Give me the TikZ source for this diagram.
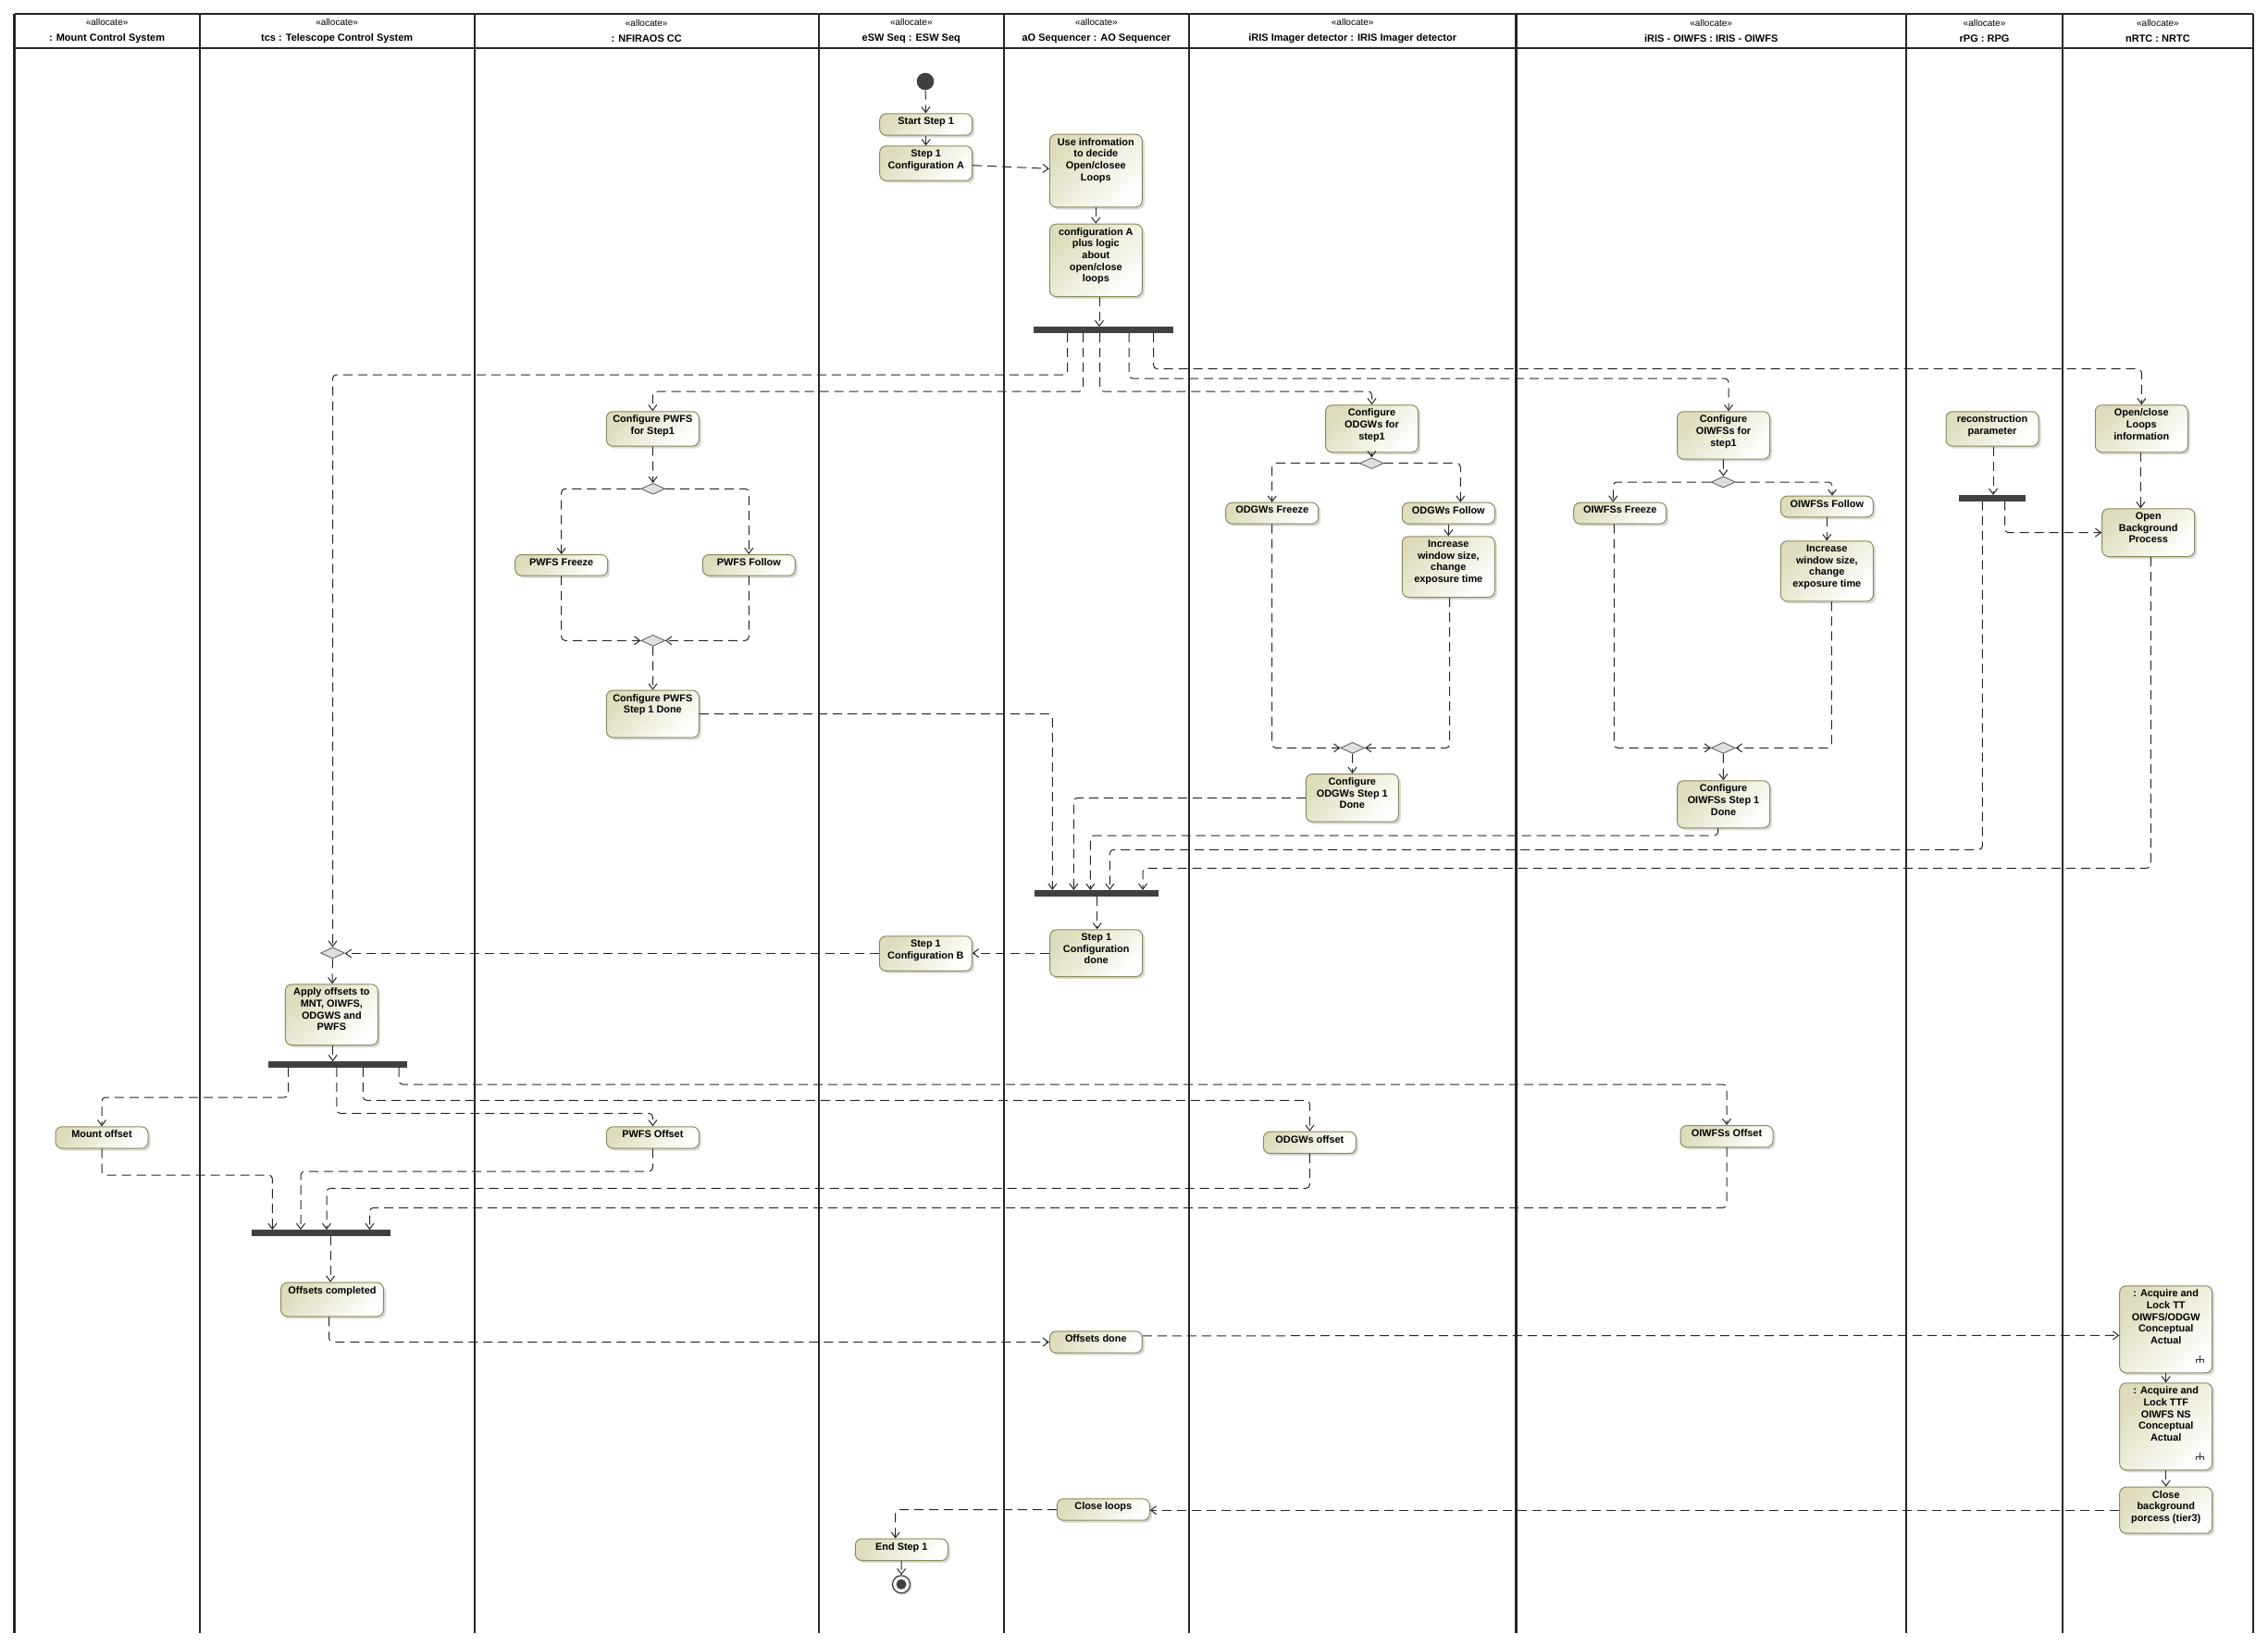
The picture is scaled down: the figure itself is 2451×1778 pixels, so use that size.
\documentclass[tikz,border=0pt]{standalone}
\usepackage{fontspec}
\setmainfont{Liberation Sans}
\usetikzlibrary{arrows.meta,shapes.geometric,shadows}
\definecolor{actdraw}{RGB}{138,138,88}
\definecolor{actfill}{RGB}{222,220,188}
\definecolor{bargray}{RGB}{64,64,64}
\tikzset{>={Straight Barb[length=6pt,width=9pt]}}
\tikzset{
  action/.style={
    draw=actdraw, line width=1pt, rounded corners=7pt,
    top color=actfill, bottom color=white, shading angle=45,
    drop shadow={shadow xshift=2.5pt,shadow yshift=-2.5pt,opacity=.3},
    anchor=north, inner sep=0pt, minimum width=#1},
  action/.default=100pt,
  flow/.style={->, draw=black!85, line width=1pt, dash pattern=on 10pt off 6pt, rounded corners=4pt},
  decision/.style={diamond, draw=gray!70!black, fill=gray!25, line width=.8pt,
    minimum width=26pt, minimum height=12pt, inner sep=0pt},
  bar/.style={rectangle, fill=bargray, inner sep=0pt, minimum height=6.4pt},
  lane/.style={line width=2.4pt, draw=black!85},
  lanehead/.style={align=center, inner sep=0pt, font=\fontsize{10}{16.7}\selectfont},
  finalnode/.style={circle, draw=black!80, fill=white, line width=1.2pt, minimum size=19pt, inner sep=0pt,
    drop shadow={shadow xshift=2pt,shadow yshift=-2pt,opacity=.3}}
}
\newcommand{\acttext}[2]{\parbox[c][#1pt][t]{98pt}{\vspace*{4pt}\centering\fontsize{10.9}{12.7}\selectfont\bfseries #2\par}}
\newcommand{\lanename}[1]{{\fontsize{11}{16.7}\selectfont\bfseries #1}}
\newcommand{\rakeat}[1]{%
  \draw[line width=1.1pt, black!80] ([xshift=-14pt,yshift=19pt]#1) -- ([xshift=-14pt,yshift=11pt]#1)
    ([xshift=-18pt,yshift=11pt]#1) -- ([xshift=-18pt,yshift=15pt]#1) -- ([xshift=-10pt,yshift=15pt]#1) -- ([xshift=-10pt,yshift=11pt]#1);}

\begin{document}
\begin{tikzpicture}[x=1pt,y=-1pt]
\useasboundingbox (0,0) rectangle (2451,1778);
% swimlanes
\draw[lane] (15.6,15) -- (2435,15) (15.6,52) -- (2435,52);
\draw[lane] (15.6,15) -- (15.6,1765) (215.7,15) -- (215.7,1765) (512.7,15) -- (512.7,1765)
  (884.7,15) -- (884.7,1765) (1084.8,15) -- (1084.8,1765) (1285,15) -- (1285,1765)
  (1638.3,15) -- (1638.3,1765) (2060.2,15) -- (2060.2,1765) (2228.8,15) -- (2228.8,1765)
  (2435,15) -- (2435,1765);
\node[lanehead] (hmcs) at (115.6,33.5) {«allocate»\\\lanename{: Mount Control System}};
\node[lanehead] (htcs) at (364.2,33.5) {«allocate»\\\lanename{tcs : Telescope Control System}};
\node[lanehead] (hnfiraos) at (698.7,33.5) {«allocate»\\\lanename{: NFIRAOS CC}};
\node[lanehead] (hesw) at (984.8,33.5) {«allocate»\\\lanename{eSW Seq : ESW Seq}};
\node[lanehead] (haoseq) at (1184.9,33.5) {«allocate»\\\lanename{aO Sequencer : AO Sequencer}};
\node[lanehead] (himager) at (1461.7,33.5) {«allocate»\\\lanename{iRIS Imager detector : IRIS Imager detector}};
\node[lanehead] (hoiwfs) at (1849.2,33.5) {«allocate»\\\lanename{iRIS - OIWFS : IRIS - OIWFS}};
\node[lanehead] (hrpg) at (2144.5,33.5) {«allocate»\\\lanename{rPG : RPG}};
\node[lanehead] (hnrtc) at (2331.9,33.5) {«allocate»\\\lanename{nRTC : NRTC}};

% eSW Seq
\node[circle, fill=bargray, minimum size=18.6pt, inner sep=0pt] (init) at (1000,88) {};
\node[action] (start) at (1000.7,122.3) {\acttext{23.4}{Start Step 1}};
\node[action] (cfga) at (1000.7,157.3) {\acttext{37.4}{Step 1\\Configuration A}};
\node[action] (cfgb) at (1000.4,1011.3) {\acttext{37.5}{Step 1\\Configuration B}};
\node[action] (endstep) at (974.3,1662.7) {\acttext{23.3}{End Step 1}};
\node[finalnode] (final) at (974,1712.3) {};
\fill[bargray] (final) circle (5.5pt);

% AO Sequencer
\node[action] (useinfo) at (1184.3,144.7) {\acttext{78.6}{Use infromation\\to decide\\Open/closee\\Loops}};
\node[action] (cfglogic) at (1184.3,241.7) {\acttext{78.3}{configuration A\\plus logic\\about\\open/close\\loops}};
\node[bar, minimum width=150.7pt] (fork1) at (1192.3,356.5) {};
\node[bar, minimum width=133.4pt] (join2) at (1185,965.3) {};
\node[action] (cfgdone) at (1184.7,1004.3) {\acttext{50.7}{Step 1\\Configuration\\done}};
\node[action] (offdone) at (1184.3,1438.3) {\acttext{23.4}{Offsets done}};
\node[action] (closeloops) at (1192.3,1619.3) {\acttext{23.4}{Close loops}};

% NFIRAOS
\node[action] (pwfscfg) at (705.3,444.3) {\acttext{37.4}{Configure PWFS\\for Step1}};
\node[decision] (pwfsdec) at (705.7,528.3) {};
\node[action] (pwfsfrz) at (606.7,599) {\acttext{22.7}{PWFS Freeze}};
\node[action] (pwfsfol) at (809.3,599) {\acttext{22.7}{PWFS Follow}};
\node[decision] (pwfsmrg) at (705.7,692.3) {};
\node[action] (pwfsdone) at (705.3,745.7) {\acttext{51}{Configure PWFS\\Step 1 Done}};
\node[action] (pwfsoff) at (705.4,1217.3) {\acttext{23.4}{PWFS Offset}};

% IRIS imager
\node[action] (odgwcfg) at (1482.5,437.3) {\acttext{51}{Configure\\ODGWs for\\step1}};
\node[decision] (odgwdec) at (1482.3,500.7) {};
\node[action] (odgwfrz) at (1374.7,542.7) {\acttext{23}{ODGWs Freeze}};
\node[action] (odgwfol) at (1565.3,542.7) {\acttext{23}{ODGWs Follow}};
\node[action] (odgwinc) at (1565.3,579.3) {\acttext{65.7}{Increase\\window size,\\change\\exposure time}};
\node[decision] (odgwmrg) at (1461.7,808.3) {};
\node[action] (odgwdone) at (1461.3,836) {\acttext{51.7}{Configure\\ODGWs Step 1\\Done}};
\node[action] (odgwoff) at (1415.4,1222.7) {\acttext{23.4}{ODGWs offset}};

% IRIS OIWFS
\node[action] (oicfg) at (1862.5,444.3) {\acttext{51.4}{Configure\\OIWFSs for\\step1}};
\node[decision] (oidec) at (1862.3,521) {};
\node[action] (oifrz) at (1750.7,542.7) {\acttext{23}{OIWFSs Freeze}};
\node[action] (oifol) at (1974.3,535.7) {\acttext{22.6}{OIWFSs Follow}};
\node[action] (oiinc) at (1974.3,584.3) {\acttext{65}{Increase\\window size,\\change\\exposure time}};
\node[decision] (oimrg) at (1862.3,808.3) {};
\node[action] (oidone) at (1862.5,843.3) {\acttext{51}{Configure\\OIWFSs Step 1\\Done}};
\node[action] (oioff) at (1866,1216) {\acttext{23.4}{OIWFSs Offset}};

% RPG
\node[action] (recon) at (2153,444.3) {\acttext{37.4}{reconstruction\\parameter}};
\node[bar, minimum width=72.3pt] (fork2) at (2152.8,538.3) {};

% NRTC
\node[action] (openclose) at (2314.3,437.3) {\acttext{51}{Open/close\\Loops\\information}};
\node[action] (openbg) at (2321.7,549.3) {\acttext{51.7}{Open\\Background\\Process}};
\node[action] (acqtt) at (2340.7,1389.3) {\acttext{94}{: Acquire and\\Lock TT\\OIWFS/ODGW\\Conceptual\\Actual}};
\node[action] (acqttf) at (2340.7,1494.3) {\acttext{94}{: Acquire and\\Lock TTF\\OIWFS NS\\Conceptual\\Actual}};
\node[action] (closebg) at (2340.7,1606.7) {\acttext{50}{Close\\background\\porcess (tier3)}};
\rakeat{acqtt.south east}
\rakeat{acqttf.south east}

% tcs and mount
\node[decision] (tcsmrg) at (359.5,1030) {};
\node[action] (apply) at (358.4,1063.3) {\acttext{65.7}{Apply offsets to\\MNT, OIWFS,\\ODGWS and\\PWFS}};
\node[bar, minimum width=150.5pt] (fork3) at (365,1150.5) {};
\node[bar, minimum width=150.4pt] (join4) at (347.2,1332.5) {};
\node[action=110.7pt] (offcomp) at (359,1385.7) {\acttext{36.6}{Offsets completed}};
\node[action] (mountoff) at (110,1217.3) {\acttext{23.4}{Mount offset}};

% flows
\draw[flow] (init) -- (start);
\draw[flow] (start) -- (cfga);
\draw[flow] (cfga) -- (useinfo);
\draw[flow] (useinfo) -- (cfglogic);
\draw[flow] (cfglogic.south -| 1188,0) -- (fork1.north -| 1188,0);
\draw[flow] (fork1.south -| 1153.6,0) |- (tcsmrg.north |- 0,405) -- (tcsmrg.north);
\draw[flow] (fork1.south -| 1170.5,0) |- (pwfscfg.north |- 0,423) -- (pwfscfg.north);
\draw[flow] (fork1.south -| 1188.5,0) |- (odgwcfg.north |- 0,423) -- (odgwcfg.north);
\draw[flow] (fork1.south -| 1220,0) |- (1868,409) -- (oicfg.north -| 1868,0);
\draw[flow] (fork1.south -| 1246.5,0) |- (openclose.north |- 0,398.6) -- (openclose.north);

\draw[flow] (pwfscfg) -- (pwfsdec);
\draw[flow] (pwfsdec.west) -| (pwfsfrz.north);
\draw[flow] (pwfsdec.east) -| (pwfsfol.north);
\draw[flow] (pwfsfrz.south) |- (pwfsmrg.west);
\draw[flow] (pwfsfol.south) |- (pwfsmrg.east);
\draw[flow] (pwfsmrg) -- (pwfsdone);
\draw[flow] (pwfsdone.east) -| (join2.north -| 1137.3,0);

\draw[flow] (odgwcfg) -- (odgwdec);
\draw[flow] (odgwdec.west) -| (odgwfrz.north);
\draw[flow] (odgwdec.east) -| (odgwfol.north -| 1578.3,0);
\draw[flow] (odgwfol) -- (odgwinc);
\draw[flow] (odgwfrz.south) |- (odgwmrg.west);
\draw[flow] (odgwinc.south -| 1566.7,0) |- (odgwmrg.east);
\draw[flow] (odgwmrg) -- (odgwdone);
\draw[flow] (odgwdone.west) -| (join2.north -| 1160.3,0);

\draw[flow] (oicfg) -- (oidec);
\draw[flow] (oidec.west) -| (oifrz.north -| 1743.3,0);
\draw[flow] (oidec.east) -| (oifol.north -| 1980,0);
\draw[flow] (oifol) -- (oiinc);
\draw[flow] (oifrz.south -| 1744.3,0) |- (oimrg.west);
\draw[flow] (oiinc.south -| 1979.3,0) |- (oimrg.east);
\draw[flow] (oimrg) -- (oidone);
\draw[flow] (oidone.south -| 1856.7,0) |- (1178.3,903) -- (join2.north -| 1178.3,0);

\draw[flow] (recon.south -| 2154,0) -- (fork2.north -| 2154,0);
\draw[flow] (fork2.south -| 2166.7,0) |- (openbg.west);
\draw[flow] (fork2.south -| 2142.3,0) |- (1199.3,918.3) -- (join2.north -| 1199.3,0);
\draw[flow] (openclose.south -| 2313.3,0) -- (openbg.north -| 2313.3,0);
\draw[flow] (openbg.south -| 2324.3,0) |- (1235,938.3) -- (join2.north -| 1235,0);

\draw[flow] (join2.south -| 1185.7,0) -- (cfgdone.north -| 1185.7,0);
\draw[flow] (cfgdone.west) -- (cfgdone.west -| cfgb.east);
\draw[flow] (cfgb.west) -- (cfgb.west -| tcsmrg.east);
\draw[flow] (tcsmrg) -- (apply);
\draw[flow] (apply.south -| 359.7,0) -- (fork3.north -| 359.7,0);
\draw[flow] (fork3.south -| 311.7,0) |- (mountoff.north |- 0,1186) -- (mountoff.north);
\draw[flow] (fork3.south -| 363.8,0) |- (pwfsoff.north |- 0,1203.3) -- (pwfsoff.north);
\draw[flow] (fork3.south -| 392.3,0) |- (odgwoff.north |- 0,1189.3) -- (odgwoff.north);
\draw[flow] (fork3.south -| 431.1,0) |- (oioff.north |- 0,1172) -- (oioff.north);
\draw[flow] (mountoff.south) |- (294.4,1270) -- (join4.north -| 294.4,0);
\draw[flow] (pwfsoff.south) |- (325,1266) -- (join4.north -| 325,0);
\draw[flow] (odgwoff.south) |- (353,1284.3) -- (join4.north -| 353,0);
\draw[flow] (oioff.south) |- (399.5,1305.3) -- (join4.north -| 399.5,0);
\draw[flow] (join4.south -| 357.1,0) -- (offcomp.north -| 357.1,0);
\draw[flow] (offcomp.south -| 355.6,0) |- (offdone.west);
\draw[flow] (offdone.east) ++(0,-6.7) -- (acqtt.west |- 0,1443.3);
\draw[flow] (acqtt) -- (acqttf);
\draw[flow] (acqttf) -- (closebg);
\draw[flow] (closebg.west) -- (closebg.west -| closeloops.east);
\draw[flow] (closeloops.west) -| (endstep.north -| 967.7,0);
\draw[flow] (endstep) -- (final);
\end{tikzpicture}
\end{document}
